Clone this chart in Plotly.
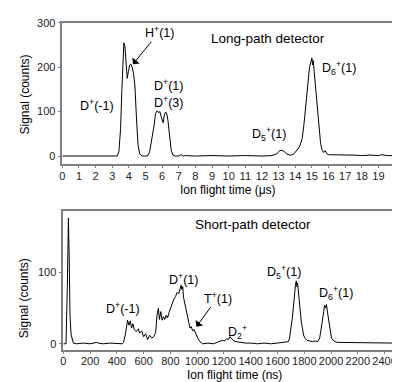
import plotly.graph_objects as go

# Long-path detector (time in microseconds, signal in counts)
t_long = [0, 1, 2, 3, 3.3, 3.4, 3.5, 3.58, 3.64, 3.7,
          3.76, 3.82, 3.9, 3.97, 4.05, 4.12, 4.2, 4.28, 4.36, 4.45,
          4.55, 4.65, 4.8, 5.0, 5.15, 5.25, 5.35, 5.45, 5.52, 5.6,
          5.7, 5.78, 5.86, 5.93, 6.0, 6.06, 6.13, 6.21, 6.28, 6.35,
          6.45, 6.55, 6.65, 6.8, 7.0, 7.15, 7.25, 7.4, 8, 9,
          10, 11, 12, 12.6, 12.9, 13.05, 13.2, 13.35, 13.5, 13.7,
          13.9, 14.05, 14.2, 14.3, 14.42, 14.52, 14.62, 14.7, 14.78, 14.86,
          14.93, 15.0, 15.04, 15.08, 15.14, 15.2, 15.27, 15.35, 15.43, 15.52,
          15.6, 15.7, 15.8, 15.9, 16.0, 16.3, 16.6, 17, 17.5, 18,
          18.5, 19, 19.2, 19.5, 20]
s_long = [0, 0, 0, 0, 0, 10, 60, 150, 230, 255,
          248, 210, 175, 190, 205, 207, 200, 185, 160, 90,
          25, 5, 0, 0, 1, 10, 30, 50, 70, 95,
          102, 98, 100, 90, 80, 75, 92, 99, 95, 80,
          45, 12, 2, 0, 0, 3, 0, 1, 0, 1,
          0, 1, 0, 1, 5, 12, 13, 10, 4, 2,
          4, 10, 18, 25, 40, 70, 110, 150, 180, 200,
          210, 221, 205, 215, 190, 165, 130, 90, 55, 30,
          15, 8, 12, 5, 3, 3, 2, 2, 2, 1,
          2, 1, 3, 1, 1]

# Short-path detector (time in ns, signal in counts)
t_short = [0, 20, 30, 38, 44, 50, 58, 66, 75, 100,
           150, 200, 250, 260, 300, 350, 400, 440, 450, 465,
           480, 490, 500, 510, 520, 530, 545, 560, 570, 585,
           600, 615, 630, 645, 660, 675, 690, 700, 710, 718,
           728, 738, 748, 758, 768, 778, 790, 800, 812, 825,
           838, 850, 862, 872, 880, 886, 892, 898, 906, 916,
           926, 936, 946, 956, 966, 976, 990, 1005, 1020, 1040,
           1080, 1120, 1150, 1170, 1190, 1205, 1220, 1235, 1245, 1252,
           1262, 1275, 1290, 1320, 1360, 1400, 1450, 1500, 1550, 1600,
           1650, 1680, 1690, 1700, 1710, 1718, 1726, 1734, 1740, 1745,
           1750, 1756, 1762, 1770, 1778, 1786, 1795, 1805, 1820, 1840,
           1860, 1880, 1900, 1915, 1925, 1935, 1945, 1952, 1960, 1966,
           1972, 1978, 1985, 1993, 2003, 2015, 2030, 2050, 2080, 2120,
           2200, 2300, 2350, 2400, 2478]
s_short = [0, 0, 80, 176, 120, 40, 13, 5, 1, 0,
           1, 0, 2, 1, 0, 1, 0, 0, 2, 15,
           33, 26, 32, 22, 28, 20, 17, 21, 15, 18,
           10, 14, 6, 12, 8, 10, 16, 40, 50, 34,
           45, 33, 38, 34, 40, 36, 44, 50, 56, 62,
           66, 72, 70, 78, 82, 76, 80, 65, 58, 48,
           36, 28, 22, 24, 18, 20, 13, 8, 3, 0,
           1, 0, 2, 3, 5, 4, 7, 6, 10, 8,
           6, 4, 3, 2, 1, 1, 0, 1, 0, 1,
           2, 3, 8, 20, 35, 50, 70, 82, 88, 80,
           85, 72, 60, 45, 30, 22, 12, 8, 5, 4,
           3, 4, 3, 8, 18, 32, 45, 54, 50, 55,
           46, 38, 25, 15, 8, 5, 3, 2, 2, 1,
           2, 1, 2, 1, 1]

assert len(t_long) == len(s_long), (len(t_long), len(s_long))
assert len(t_short) == len(s_short), (len(t_short), len(s_short))

OFF = 8                      # page body margin
W, H = 400 - OFF, 382 - OFF
FONT = "Liberation Sans, Arial, sans-serif"
AX = "#7f7f7f"

def px(x):
    return (x - OFF) / W

def py(y):
    return 1 - (y - OFF) / H

fig = go.Figure()
fig.add_trace(go.Scatter(x=t_long, y=s_long, mode="lines",
                         line=dict(color="black", width=1), xaxis="x", yaxis="y"))
fig.add_trace(go.Scatter(x=t_short, y=s_short, mode="lines",
                         line=dict(color="black", width=1), xaxis="x2", yaxis="y2"))

axcommon = dict(showline=True, mirror=True, linecolor=AX, linewidth=1.5,
                ticks="outside", ticklen=3, tickcolor=AX, tickwidth=1,
                showgrid=False, zeroline=False,
                tickfont=dict(family=FONT, size=11, color="#222"))

fig.update_layout(
    width=W, height=H, margin=dict(l=0, r=0, t=0, b=0),
    paper_bgcolor="white", plot_bgcolor="white", showlegend=False,
    xaxis=dict(domain=[px(60), px(397)], range=[0, 20], dtick=1,
               anchor="y", ticklabelstandoff=-2, **axcommon),
    yaxis=dict(domain=[py(160), py(17)], range=[-17, 300],
               tickvals=[0, 100, 200, 300], anchor="x", **axcommon),
    xaxis2=dict(domain=[px(61), px(397)], range=[0, 2478], dtick=200,
                anchor="y2", ticklabelstandoff=-2, **axcommon),
    yaxis2=dict(domain=[py(349), py(208)], range=[-8, 186],
                tickvals=[0, 100], anchor="x2", **axcommon),
)

def lab(text, x, y, size=12.5, **kw):
    fig.add_annotation(text=text, x=px(x), y=py(y), xref="paper", yref="paper",
                       showarrow=False, font=dict(family=FONT, size=size, color="black"),
                       xanchor="center", yanchor="middle", **kw)

# axis titles
lab("Signal (counts)", 22, 90, size=12, textangle=-90)
lab("Signal (counts)", 22, 297, size=12, textangle=-90)
lab("Ion flight time (μs)", 228, 187, size=12)
lab("Ion flight time (ns)", 234, 375, size=12)

# top panel labels
lab("Long-path detector", 268, 33, size=13.5)
lab("D<sup>+</sup>(-1)", 95, 100)
lab("D<sup>+</sup>(1)", 168, 80)
lab("D<sup>+</sup>(3)", 168, 97)
lab("D<sub>5</sub><sup>+</sup>(1)", 269, 130)
lab("D<sub>6</sub><sup>+</sup>(1)", 340, 63)

# bottom panel labels
lab("Short-path detector", 253, 222, size=13.5)
lab("D<sup>+</sup>(-1)", 121, 307)
lab("D<sup>+</sup>(1)", 183, 277)
lab("D<sub>2</sub><sup>+</sup>", 237, 331)
lab("D<sub>5</sub><sup>+</sup>(1)", 285, 270)
lab("D<sub>6</sub><sup>+</sup>(1)", 337, 292)

# arrowed labels
fig.add_annotation(text="H<sup>+</sup>(1)", x=4.25, y=207, xref="x", yref="y",
                   ax=26, ay=-32, showarrow=True, arrowhead=1, arrowsize=1.6,
                   arrowwidth=1, arrowcolor="black",
                   font=dict(family=FONT, size=12.5, color="black"))
fig.add_annotation(text="T<sup>+</sup>(1)", x=995, y=24, xref="x2", yref="y2",
                   ax=21, ay=-29, showarrow=True, arrowhead=1, arrowsize=1.6,
                   arrowwidth=1, arrowcolor="black",
                   font=dict(family=FONT, size=12.5, color="black"))

fig.write_html("out.html")
